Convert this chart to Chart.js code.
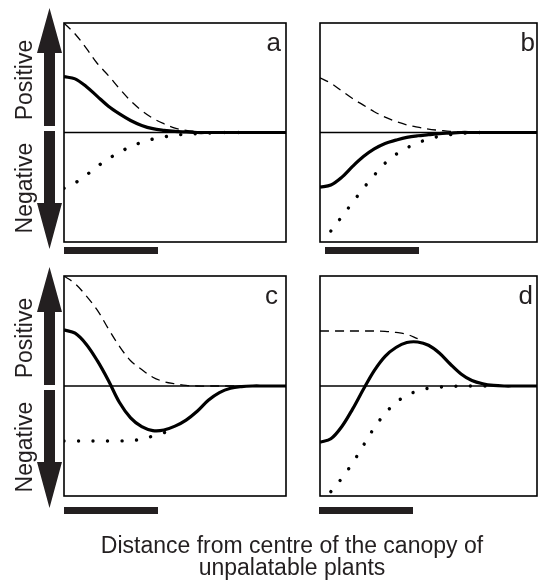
<!DOCTYPE html>
<html lang="en">
<head>
<meta charset="UTF-8">
<title>Interaction strength vs distance</title>
<script src="https://cdn.jsdelivr.net/npm/chart.js"></script>
<style>
    body { margin: 0; background: #fff; }
    #wrap { position: relative; width: 538px; height: 587px; overflow: hidden;
            font-family: "Liberation Sans", Arial, sans-serif; color: #231f20; }
    #wrap canvas { position: absolute; }
    .lbl { position: absolute; font-size: 23px; line-height: 23px; white-space: nowrap;
           transform: translate(-50%, -50%) rotate(-90deg); }
    .tag { position: absolute; font-size: 26px; line-height: 26px; }
    #xlabel { position: absolute; left: 0; top: 534px; width: 584px; text-align: center;
              font-size: 23px; line-height: 22px; }
</style>
</head>
<body>
<div id="wrap">
    <canvas id="deco" width="538" height="587" style="left:0;top:0"></canvas>
    <canvas id="pa" width="226" height="223" style="left:62px;top:21px"></canvas>
    <canvas id="pb" width="221" height="223" style="left:318px;top:21px"></canvas>
    <canvas id="pc" width="226" height="224" style="left:62px;top:274px"></canvas>
    <canvas id="pd" width="221" height="224" style="left:318px;top:274px"></canvas>

    <div class="lbl" style="left:24px;top:80px">Positive</div>
    <div class="lbl" style="left:24px;top:188px">Negative</div>
    <div class="lbl" style="left:24px;top:338px">Positive</div>
    <div class="lbl" style="left:24px;top:447px">Negative</div>

    <div class="tag" style="right:257px;top:29px">a</div>
    <div class="tag" style="right:3px;top:29px">b</div>
    <div class="tag" style="right:260px;top:282px">c</div>
    <div class="tag" style="right:5px;top:282px">d</div>

    <div id="xlabel">Distance from centre of the canopy of<br>unpalatable plants</div>
</div>

<script>
    // distance from the canopy centre (arbitrary units)
    const X = [0, 0.5, 1, 1.5, 2, 2.5, 3, 3.5, 4, 4.5, 5, 5.5, 6, 6.5, 7, 7.5, 8, 8.5, 9, 9.5, 10];

    // panel a
    const aDash  = [1.0, .9, .77, .63, .52, .4, .29, .2, .13, .08, .04, .02, .01, 0, 0, 0, 0, 0, 0, 0, 0];
    const aSolid = [.51, .49, .42, .33, .24, .17, .11, .065, .035, .02, .01, .005, 0, 0, 0, 0, 0, 0, 0, 0, 0];
    const aDot   = [-.51, -.46, -.39, -.31, -.24, -.18, -.13, -.09, -.06, -.04, -.025, -.015, -.01, -.005, 0, 0, 0, null, null, null, null];

    // panel b
    const bDash  = [.5, .45, .38, .31, .25, .19, .14, .1, .07, .05, .03, .02, .01, .005, 0, 0, 0, 0, 0, 0, 0];
    const bSolid = [-.5, -.48, -.41, -.31, -.22, -.15, -.1, -.07, -.045, -.03, -.02, -.01, -.005, 0, 0, 0, 0, 0, 0, 0, 0];
    const bDot   = [null, -.9, -.77, -.64, -.51, -.39, -.28, -.2, -.14, -.095, -.06, -.035, -.02, -.01, 0, 0, 0, null, null, null, null];

    // panel c
    const cDash  = [1.0, .93, .82, .69, .52, .36, .23, .15, .08, .04, .02, .005, 0, 0, 0, 0, 0, 0, 0, 0, 0];
    const cSolid = [.51, .48, .38, .23, .05, -.15, -.29, -.37, -.405, -.4, -.365, -.31, -.23, -.13, -.06, -.02, -.005, 0, 0, 0, 0];
    const cDot   = [-.5, -.5, -.5, -.5, -.5, -.5, -.495, -.485, -.455, -.425, -.39, null, null, null, null, null, null, null, null, null, null];

    // panel d
    const dDash  = [.5, .5, .5, .5, .5, .5, .497, .487, .47, .43, null, null, null, null, null, null, null, null, null, null, null];
    const dSolid = [-.51, -.48, -.37, -.21, -.03, .14, .27, .35, .395, .4, .37, .3, .2, .11, .05, .02, .005, 0, 0, 0, 0];
    const dDot   = [null, -.96, -.84, -.7, -.54, -.38, -.25, -.15, -.085, -.045, -.02, -.01, -.005, 0, 0, 0, 0, null, null, null, null];

    const INK = '#231f20';

    function pontos(ys) {
        return X.map(function (x, i) { return { x: x, y: ys[i] }; });
    }

    // zero line under the curves, frame on top
    const moldura = {
        id: 'moldura',
        beforeDatasetsDraw(chart) {
            const ctx = chart.ctx, a = chart.chartArea;
            const y0 = chart.scales.y.getPixelForValue(0);
            ctx.save();
            ctx.strokeStyle = '#000';
            ctx.lineWidth = 1.4;
            ctx.beginPath();
            ctx.moveTo(a.left, y0);
            ctx.lineTo(a.right, y0);
            ctx.stroke();
            ctx.restore();
        },
        afterDraw(chart) {
            const ctx = chart.ctx, a = chart.chartArea;
            ctx.save();
            ctx.strokeStyle = '#000';
            ctx.lineWidth = 1.6;
            ctx.strokeRect(a.left, a.top, a.right - a.left, a.bottom - a.top);
            ctx.restore();
        }
    };

    function painel(id, solida, tracejada, pontilhada) {
        new Chart(document.getElementById(id), {
            type: 'line',
            data: {
                datasets: [{
                    data: pontos(pontilhada),
                    borderColor: '#000',
                    borderWidth: 3.4,
                    borderDash: [0.01, 14.5],
                    borderCapStyle: 'round',
                    tension: 0.35
                }, {
                    data: pontos(tracejada),
                    borderColor: '#000',
                    borderWidth: 1.3,
                    borderDash: [9, 6],
                    tension: 0.35
                }, {
                    data: pontos(solida),
                    borderColor: '#000',
                    borderWidth: 3.2,
                    tension: 0.35
                }]
            },
            options: {
                responsive: false,
                animation: false,
                devicePixelRatio: 1,
                layout: { padding: 2 },
                elements: { point: { radius: 0 } },
                plugins: { legend: { display: false }, tooltip: { enabled: false } },
                scales: {
                    x: { type: 'linear', min: 0, max: 10, display: false },
                    y: { min: -1, max: 1, display: false }
                }
            },
            plugins: [moldura]
        });
    }

    painel('pa', aSolid, aDash, aDot);
    painel('pb', bSolid, bDash, bDot);
    painel('pc', cSolid, cDash, cDot);
    painel('pd', dSolid, dDash, dDot);

    // arrows and canopy bars
    const g = document.getElementById('deco').getContext('2d');
    g.fillStyle = INK;

    function seta(topo, base, pontaCima) {
        // shaft 44..55, head 37..62, head length 45
        g.beginPath();
        if (pontaCima) {
            g.moveTo(49.5, topo);
            g.lineTo(62, topo + 45);
            g.lineTo(55, topo + 45);
            g.lineTo(55, base);
            g.lineTo(44, base);
            g.lineTo(44, topo + 45);
            g.lineTo(37, topo + 45);
        } else {
            g.moveTo(49.5, base);
            g.lineTo(62, base - 46);
            g.lineTo(55, base - 46);
            g.lineTo(55, topo);
            g.lineTo(44, topo);
            g.lineTo(44, base - 46);
            g.lineTo(37, base - 46);
        }
        g.closePath();
        g.fill();
    }
    seta(8, 126, true);
    seta(131, 249, false);
    seta(267, 385, true);
    seta(390, 508, false);

    g.fillRect(64, 247, 94, 7);
    g.fillRect(325, 247, 94, 7);
    g.fillRect(64, 507, 94, 7);
    g.fillRect(319, 507, 94, 7);
</script>
</body>
</html>
